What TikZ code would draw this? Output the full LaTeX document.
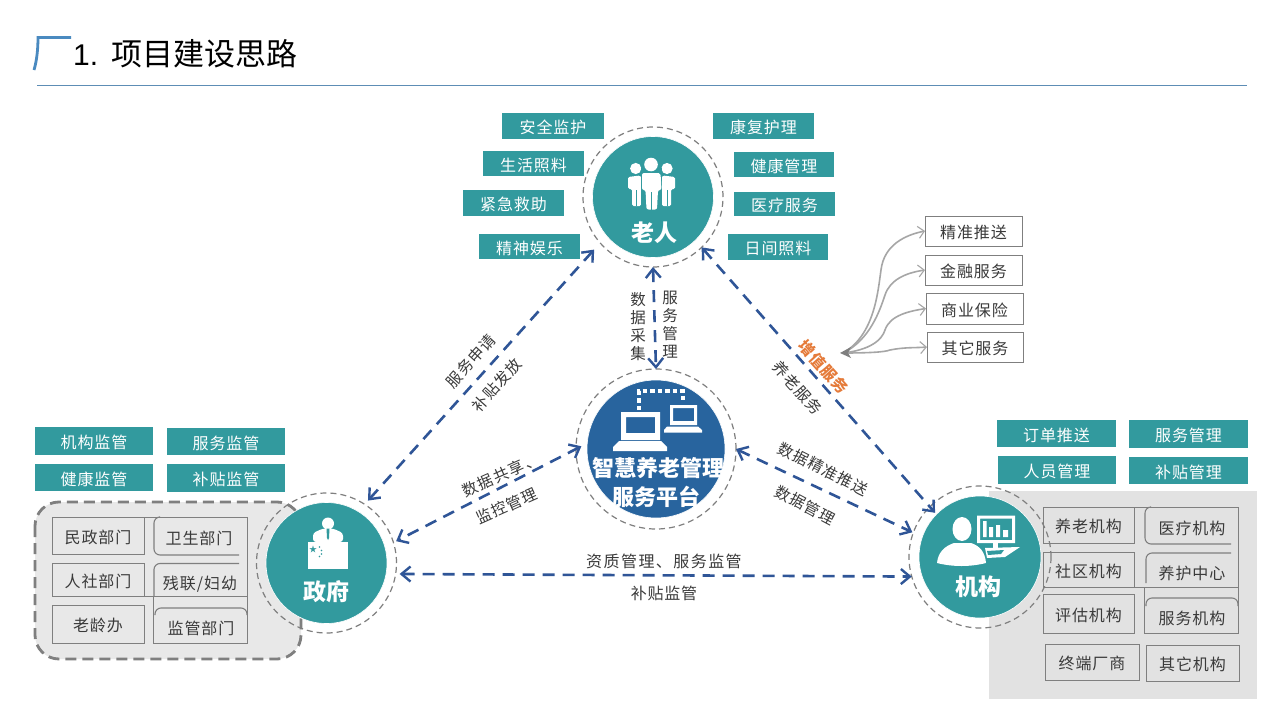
\documentclass[tikz,border=0pt]{standalone}
\usepackage{fontspec}
\setmainfont{Noto Sans CJK SC}
\newfontfamily\latinfont{Liberation Sans}
\usetikzlibrary{arrows.meta,calc}
\definecolor{teal1}{HTML}{329A9E}
\definecolor{blue1}{HTML}{28649E}
\definecolor{arrowblue}{HTML}{2F5597}
\definecolor{ringgrey}{HTML}{7F7F7F}
\definecolor{boxline}{HTML}{7F7F7F}
\definecolor{txt}{HTML}{3A3A3A}
\definecolor{orange1}{HTML}{E57B3A}
\definecolor{rule1}{HTML}{5D8DB5}
\definecolor{bracket}{HTML}{4A8AC0}
\definecolor{curve}{HTML}{A6A6A6}
\newcommand{\fsz}[1]{\fontsize{#1}{#1}\selectfont}
\newcommand{\tagbox}[6]{\node[tagnode,minimum width={(#4-#2)*1pt},minimum height={(#5-#3)*1pt}] (#1) at ({(#2+#4)/2},{(#3+#5)/2}) {\raisebox{-1.5pt}[\height][\depth]{#6}};}
\newcommand{\plainbox}[6]{\node[plainnode,minimum width={(#4-#2)*1pt},minimum height={(#5-#3)*1pt}] (#1) at ({(#2+#4)/2},{(#3+#5)/2}) {\raisebox{-1.5pt}[\height][\depth]{#6}};}
\tikzset{
  tagnode/.style={fill=teal1,text=white,inner sep=0pt,outer sep=0pt,font=\fsz{16}\addfontfeature{LetterSpace=6}},
  plainnode/.style={draw=boxline,line width=0.9pt,text=txt,inner sep=0pt,outer sep=0pt,font=\fsz{16}\addfontfeature{LetterSpace=6}},
  boxtext/.style={text=txt,inner sep=0pt,yshift=-1pt,font=\fsz{16}\addfontfeature{LetterSpace=6}},
  boxedge/.style={draw=boxline,line width=0.9pt},
  softedge/.style={draw=boxline,line width=1.1pt,rounded corners=6pt},
  ring/.style={circle,draw=ringgrey,line width=1.2pt,dash pattern=on 6pt off 4pt,minimum size=140pt,inner sep=0pt,outer sep=0pt},
  disc/.style={circle,inner sep=0pt,outer sep=0pt,draw=white,line width=0.6pt},
  conn/.style={draw=arrowblue,line width=2.6pt,dash pattern=on 12pt off 8pt,{Straight Barb[length=9pt,width=15pt,line width=2.4pt]}-{Straight Barb[length=9pt,width=15pt,line width=2.4pt]}},
  lab/.style={text=txt,inner sep=0pt,font=\fsz{15.5}\addfontfeature{LetterSpace=6}},
  disclab/.style={text=white,inner sep=0pt,font=\fsz{23}\bfseries},
  thin curve/.style={draw=curve,line width=1.6pt,-{Straight Barb[length=6pt,width=12pt,line width=1.1pt]}},
}
\begin{document}
\begin{tikzpicture}[x=1pt,y=-1pt]
\useasboundingbox (0,0) rectangle (1280,720);
\fill[white] (0,0) rectangle (1280,720);
% title
\draw[bracket,line width=2.8pt] (34,70) .. controls (37,60) and (38,48) .. (38,37.5) -- (71,37.5);
\node[anchor=west,inner sep=0pt,text=black] (ttl) at (73,54) {{\latinfont\fsz{30}1.}\hspace{13pt}\fsz{31}项目建设思路};
\draw[rule1,line width=0.9pt] (37,85.5) -- (1247,85.5);
% panels
\fill[fill=black!11.5] (989,491) rectangle (1257,699);
\filldraw[fill=black!9,draw=ringgrey,line width=2.8pt,dash pattern=on 11pt off 6pt,rounded corners=24pt] (35,502) rectangle (301,659);
% rings and discs
\node[ring] (elderO) at (653,197) {};
\node[ring,minimum size=160pt] (platO) at (656,449) {};
\node[ring] (govO) at (326.5,563) {};
\node[ring,minimum size=142pt] (instO) at (980,557) {};
\node[disc,fill=teal1,minimum size=121pt] (elder) at (653,197) {};
\node[disc,fill=blue1,minimum size=138pt] (plat) at (656,449) {};
\node[disc,fill=teal1,minimum size=121pt] (gov) at (326.5,563) {};
\node[disc,fill=teal1,minimum size=122pt] (inst) at (980,557) {};
% elder icon
\fill[white] (635.7,168.5) circle (5.6);
\fill[white] (667,168.5) circle (5.6);
\fill[white,rounded corners=1.5pt] (628,177) -- (640,175.5) -- (642,178) -- (641,206) -- (632,206) -- (632,189) -- (628,189) -- cycle;
\fill[white,rounded corners=1.5pt] (675,177) -- (663,175.5) -- (661,178) -- (662,206) -- (671,206) -- (671,189) -- (675,189) -- cycle;
\fill[teal1] (640.5,168) rectangle (642.5,210);
\fill[teal1] (660,168) rectangle (662,210);
\fill[white] (651,164.5) circle (6.8);
\fill[white,rounded corners=2pt] (642,173) -- (660.5,173) -- (661.5,190) -- (658,190) -- (657,209.5) -- (646.5,209.5) -- (645.5,190) -- (642,190) -- cycle;
\fill[teal1] (651.2,192) rectangle (652,210);
\fill[teal1] (636,190) rectangle (636.7,206);
\fill[teal1] (667,190) rectangle (667.7,206);
\node[disclab] (elderT) at (654.5,233) {老人};
% platform icon
\draw[white,line width=3.4pt,dash pattern=on 4.5pt off 3pt] (639,410) -- (639,391) -- (683,391) -- (683,403);
\fill[white,even odd rule] (621,412) rectangle (660,440) (626,417) rectangle (655,433);
\fill[white] (619,441) -- (661,441) -- (667,447) -- (667,451) -- (613,451) -- (613,447) -- cycle;
\fill[white,even odd rule] (670,405) rectangle (697,425) (673,408) rectangle (694,421);
\fill[white] (667,426.5) -- (698,426.5) -- (702,430) -- (702,432.5) -- (664,432.5) -- (664,430) -- cycle;
\node[disclab,font=\fsz{22}\bfseries] (platA) at (658,468) {智慧养老管理};
\node[disclab,font=\fsz{22}\bfseries] (platB) at (656.5,497) {服务平台};
% government icon
\fill[white] (328,523.5) circle (6);
\fill[white,rounded corners=3pt] (313,542) -- (313,533) -- (323,528.5) -- (333,528.5) -- (343,533) -- (343,542) -- cycle;
\fill[teal1] (326.5,528.5) -- (329.5,528.5) -- (329,538) -- (328,540) -- (327,538) -- cycle;
\fill[white] (308,542) rectangle (348,569);
\node[text=teal1,inner sep=0pt,font=\fsz{8}] (star) at (313,549.5) {★};
\fill[teal1] (319.5,547) circle (0.8) (321.5,550.5) circle (0.8) (321.5,554) circle (0.8) (319.5,556.5) circle (0.8);
\node[disclab] (govT) at (326.5,592) {政府};
% institution icon
\fill[white] (962,529) ellipse (9.5 and 12);
\fill[white] (937,563) .. controls (938,552) and (945,546) .. (954,543) -- (971,543) .. controls (980,546) and (985,552) .. (986,563) .. controls (970,567) and (953,567) .. (937,563) -- cycle;
\fill[white,even odd rule] (977,515.5) rectangle (1015,543) (980,518.5) rectangle (1012,540);
\fill[white] (983,521) rectangle (986.5,537) (989,527) rectangle (993,537) (996,525) rectangle (1000,537) (1003,530) rectangle (1008,537);
\fill[white] (993,543) rectangle (998,548);
\fill[white] (985,548) -- (1020,547) -- (1005,557) -- (987,558) -- cycle;
\fill[teal1] (987,551) -- (1004,550) -- (1001,554) -- (988,555) -- cycle;
\node[disclab] (instT) at (978,587) {机构};
% teal tags
\tagbox{a1}{502}{113}{604}{139}{安全监护}
\tagbox{a2}{483}{151}{584}{176}{生活照料}
\tagbox{a3}{463}{190}{564}{216}{紧急救助}
\tagbox{a4}{479}{234}{580}{259}{精神娱乐}
\tagbox{a5}{713}{113}{814}{139}{康复护理}
\tagbox{a6}{734}{152}{834}{177}{健康管理}
\tagbox{a7}{734}{192}{835}{216}{医疗服务}
\tagbox{a8}{728}{234}{828}{260}{日间照料}
\tagbox{b1}{35}{427}{153}{455}{机构监管}
\tagbox{b2}{167}{428}{285}{455}{服务监管}
\tagbox{b3}{35}{464}{153}{491}{健康监管}
\tagbox{b4}{167}{464}{285}{492}{补贴监管}
\tagbox{c1}{997}{420}{1116}{447}{订单推送}
\tagbox{c2}{1129}{420}{1248}{448}{服务管理}
\tagbox{c3}{998}{456}{1116}{484}{人员管理}
\tagbox{c4}{1129}{457}{1248}{484}{补贴管理}
% government departments
\plainbox{d1}{52}{517}{144}{554}{民政部门}
\plainbox{d3}{52}{563}{144}{596}{人社部门}
\plainbox{d5}{52}{605}{144}{643}{老龄办}
\draw[boxedge] (144,517) -- (247,517) -- (247,596) -- (52,596);
\draw[softedge] (159,517) -- (154,517) -- (154,555) -- (239,555);
\draw[softedge] (154,596) -- (154,563.5) -- (239,563.5);
\draw[boxedge] (153,596) -- (153,643) -- (247,643) -- (247,596);
\draw[softedge] (155,615) -- (155,608) -- (247,608) -- (247,615);
\node[boxtext] (d2) at (199,537.5) {卫生部门};
\node[boxtext] (d4) at (200,583) {残联/妇幼};
\node[boxtext] (d6) at (201,627) {监管部门};
% institution types
\plainbox{e1}{1043}{507}{1134}{543}{养老机构}
\plainbox{e3}{1043}{552}{1134}{587}{社区机构}
\plainbox{e5}{1043}{594}{1134}{633}{评估机构}
\plainbox{e7}{1045}{644}{1139}{680}{终端厂商}
\plainbox{e8}{1146}{645}{1239}{681}{其它机构}
\draw[boxedge] (1134,507) -- (1238,507) -- (1238,587) -- (1043,587);
\draw[softedge] (1150,507) -- (1145,507) -- (1145,544) -- (1231,544);
\draw[softedge] (1146,583) -- (1146,553) -- (1231,553);
\draw[boxedge] (1144,587) -- (1144,633) -- (1238,633) -- (1238,587);
\draw[softedge] (1146,606) -- (1146,598) -- (1238,598) -- (1238,606);
\node[boxtext] (e2) at (1192,527) {医疗机构};
\node[boxtext] (e4) at (1192,572) {养护中心};
\node[boxtext] (e6) at (1192,617) {服务机构};
% service boxes
\plainbox{f1}{925}{216}{1022}{246}{精准推送}
\plainbox{f2}{925}{255}{1022}{285}{金融服务}
\plainbox{f3}{926}{293}{1023}{324}{商业保险}
\plainbox{f4}{927}{332}{1023}{362}{其它服务}
\coordinate (hub) at (843,353);
\draw[thin curve] (hub) .. controls (875,335) and (878,290) .. (881,270) .. controls (884,245) and (905,235) .. (f1.west);
\draw[thin curve] (hub) .. controls (870,340) and (880,310) .. (885,295) .. controls (890,280) and (905,273) .. (f2.west);
\draw[thin curve] (hub) .. controls (870,350) and (882,340) .. (885,330) .. controls (890,315) and (910,311) .. (f3.west);
\draw[thin curve] (hub) .. controls (870,353) and (885,352) .. (890,350) .. controls (905,347) and (915,348) .. (f4.west);
\fill[ringgrey] (840,353) -- (851,347) -- (848,353) -- (851,358) -- cycle;
% connectors
\draw[conn,shorten <=9pt,shorten >=5pt] (elderO.221) -- (govO.57);
\draw[conn,shorten >=-8pt] (elderO.314) -- (instO.135);
\draw[conn] (elderO.south) -- (platO.north);
\draw[conn,shorten <=-6pt,shorten >=3pt] (platO.180) -- (govO.17);
\draw[conn,shorten >=1pt] (platO.0) -- (instO.160);
\draw[conn,shorten <=4pt] (govO.351) -- (instO.196);
% connector labels
\node[lab,rotate=48] (l1) at (471,361) {服务申请};
\node[lab,rotate=48] (l2) at (497,385) {补贴发放};
\node[lab,rotate=-48] (l3) at (798,388) {养老服务};
\node[lab,rotate=-48,text=orange1,font=\fsz{15.5}\bfseries\addfontfeature{LetterSpace=6}] (l4) at (824,367) {增值服务};
\node[lab,rotate=24,font=\fsz{15.5}\addfontfeature{LetterSpace=10}] (l5) at (501,475) {数据共享、};
\node[lab,rotate=24] (l6) at (507,506) {监控管理};
\node[lab,rotate=-27] (l7) at (823,469) {数据精准推送};
\node[lab,rotate=-28] (l8) at (805,505) {数据管理};
\node[lab,align=center,font=\fontsize{15.5}{18}\selectfont] (l9) at (638,326.5) {数\\据\\采\\集};
\node[lab,align=center,font=\fontsize{15.5}{18}\selectfont] (l10) at (670,324.5) {服\\务\\管\\理};
\node[lab,font=\fsz{16}\addfontfeature{LetterSpace=9}] (l11) at (664,561) {资质管理、服务监管};
\node[lab,font=\fsz{16}\addfontfeature{LetterSpace=5}] (l12) at (664,593) {补贴监管};
\end{tikzpicture}
\end{document}
